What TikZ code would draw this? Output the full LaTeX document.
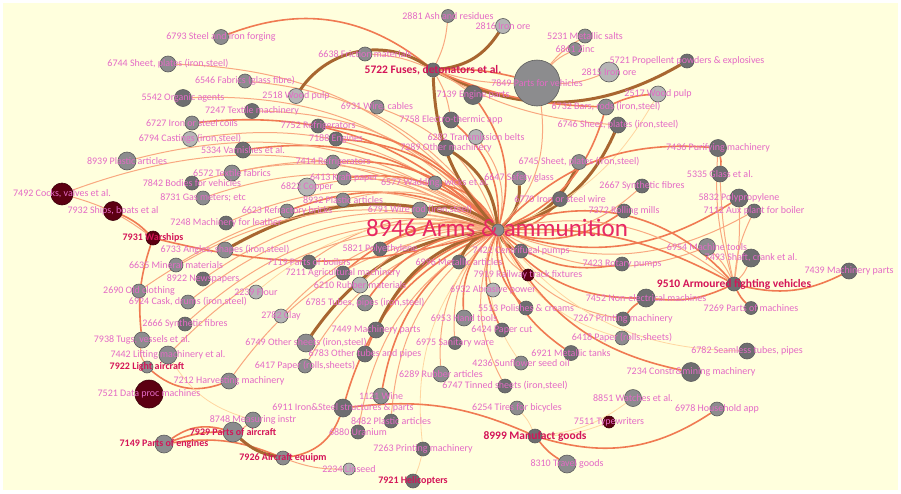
\documentclass[tikz,border=0pt]{standalone}
\usepackage{fontspec}
\setmainfont{Carlito}
\definecolor{bgc}{RGB}{255,255,221}
\definecolor{gdark}{RGB}{110,110,112}
\definecolor{gmid}{RGB}{140,140,142}
\definecolor{glight}{RGB}{182,182,182}
\definecolor{dotline}{RGB}{92,92,92}
\definecolor{maroon}{RGB}{92,0,18}
\definecolor{maroonline}{RGB}{60,0,10}
\definecolor{pinklbl}{RGB}{228,106,198}
\definecolor{crimson}{RGB}{212,20,88}
\definecolor{hubc}{RGB}{232,40,100}
\definecolor{epale}{RGB}{255,214,160}
\definecolor{ethin}{RGB}{249,168,128}
\definecolor{emed}{RGB}{240,122,82}
\definecolor{ebrown}{RGB}{168,102,48}
\pgfdeclarelayer{edges}
\pgfdeclarelayer{labels}
\pgfsetlayers{edges,main,labels}
\tikzset{
  dot/.style={circle,inner sep=0pt,draw=dotline,line width=0.6pt},
  dk/.style={dot,fill=gdark},
  md/.style={dot,fill=gmid},
  lt/.style={dot,fill=glight},
  mr/.style={dot,fill=maroon,draw=maroonline},
  lbl/.style={text=pinklbl,font=\fontsize{10}{12}\selectfont,inner sep=0pt},
  hl/.style={text=crimson,font=\bfseries\fontsize{10}{12}\selectfont,inner sep=0pt},
  hlb/.style={text=crimson,font=\bfseries\fontsize{11.5}{13}\selectfont,inner sep=0pt},
  hublbl/.style={text=hubc,font=\fontsize{25}{28}\selectfont,inner sep=0pt},
  e0/.style={draw=epale,line width=0.8pt},
  e1/.style={draw=ethin,line width=1pt},
  e2/.style={draw=emed,line width=1.6pt},
  e3/.style={draw=ebrown,line width=3pt},
}
\newcommand\mynode[7]{\node[#4,minimum size=#5pt] (n#1) at (#2pt,-#3pt) {};
  \begin{pgfonlayer}{labels}\node[#6] (l#1) at (#2pt,-#3pt) {#7};\end{pgfonlayer}}
\newcommand\myedge[4]{\draw[#4] (n#1) to[bend left=#3] (n#2);}
\newcommand\hubedge[2]{\draw[#2] (n#1) to[bend left=25] (n8946);}
\begin{document}
\begin{tikzpicture}
\useasboundingbox (0pt,0pt) rectangle (901pt,-493pt);
\begin{pgfonlayer}{edges}
\fill[white] (0pt,0pt) rectangle (901pt,-493pt);
\fill[bgc] (3pt,-3pt) rectangle (898pt,-490pt);
\end{pgfonlayer}
% nodes
\node[md,minimum size=12pt] (n8946) at (498pt,-230pt) {};
\begin{pgfonlayer}{labels}\node[hublbl] (l8946) at (497pt,-228pt) {8946 Arms \& ammunition};\end{pgfonlayer}
\mynode{6793}{221}{37}{md}{15}{lbl}{6793 Steel and iron forging}
\mynode{6744}{168}{64}{md}{16}{lbl}{6744 Sheet, plates (iron,steel)}
\mynode{6546}{245}{81}{md}{14}{lbl}{6546 Fabrics (glass fibre)}
\mynode{5542}{183}{98}{dk}{17}{lbl}{5542 Organic agents}
\mynode{7247}{252}{111}{dk}{15}{lbl}{7247 Textile machinery}
\mynode{6727}{192}{123}{md}{14}{lbl}{6727 Iron or steel coils}
\mynode{6794}{190}{139}{lt}{15}{lbl}{6794 Castings (iron,steel)}
\mynode{5334}{243}{150}{dk}{16}{lbl}{5334 Varnishes et al.}
\mynode{8939}{127}{161}{md}{18}{lbl}{8939 Plastic articles}
\mynode{2518}{296}{96}{lt}{15}{lbl}{2518 Wood pulp}
\mynode{7752}{318}{126}{dk}{14}{lbl}{7752 Refrigerators}
\mynode{7188}{336}{139}{dk}{14}{lbl}{7188 Engines}
\mynode{7414}{333}{162}{md}{14}{lbl}{7414 Refrigerators}
\mynode{6638}{365}{54}{md}{14}{lbl}{6638 Friction materials}
\mynode{5722}{433}{70}{dk}{14}{hlb}{5722 Fuses, detonators et al.}
\mynode{2881}{448}{16}{md}{13}{lbl}{2881 Ash and residues}
\mynode{2816}{503}{26}{lt}{15}{lbl}{2816 Iron ore}
\mynode{5231}{585}{36}{md}{14}{lbl}{5231 Metallic salts}
\mynode{6861}{575}{49}{md}{13}{lbl}{6861 Zinc}
\mynode{7849}{537}{83}{md}{46}{lbl}{7849 Parts for vehicles}
\mynode{2815}{609}{72}{lt}{20}{lbl}{2815 Iron ore}
\mynode{5721}{687}{61}{dk}{14}{lbl}{5721 Propellent powders \& explosives}
\mynode{2517}{658}{94}{lt}{16}{lbl}{2517 Wood pulp}
\mynode{6732}{606}{107}{md}{16}{lbl}{6732 Bars, rods (iron,steel)}
\mynode{6746}{618}{125}{dk}{16}{lbl}{6746 Sheet, plates (iron,steel)}
\mynode{7139}{473}{95}{dk}{19}{lbl}{7139 Engine parts}
\mynode{6931}{377}{107}{md}{14}{lbl}{6931 Wire, cables}
\mynode{7758}{451}{120}{dk}{16}{lbl}{7758 Electro-thermic app}
\mynode{6282}{476}{137}{lt}{15}{lbl}{6282 Transmission belts}
\mynode{7289}{446}{148}{dk}{16}{lbl}{7289 Other machinery}
\mynode{6745}{579}{162}{md}{15}{lbl}{6745 Sheet, plates (iron,steel)}
\mynode{6647}{519}{178}{md}{14}{lbl}{6647 Safety glass}
\mynode{6770}{560}{199}{dk}{15}{lbl}{6770 Iron or steel wire}
\mynode{2667}{642}{186}{dk}{14}{lbl}{2667 Synthetic fibres}
\mynode{7372}{624}{211}{dk}{14}{lbl}{7372 Rolling mills}
\mynode{7436}{718}{148}{dk}{17}{lbl}{7436 Purifying machinery}
\mynode{5335}{720}{174}{dk}{16}{lbl}{5335 Glass et al.}
\mynode{5832}{739}{198}{dk}{18}{lbl}{5832 Polypropylene}
\mynode{7112}{754}{211}{dk}{14}{lbl}{7112 Aux plant for boiler}
\mynode{6954}{707}{247}{md}{17}{lbl}{6954 Machine tools}
\mynode{7493}{751}{258}{dk}{18}{lbl}{7493 Shaft, crank et al.}
\mynode{7423}{622}{264}{dk}{14}{lbl}{7423 Rotary pumps}
\mynode{7422}{521}{251}{dk}{14}{lbl}{7422 Centrifugal pumps}
\mynode{9510}{734}{284}{dk}{14}{hlb}{9510 Armoured fighting vehicles}
\mynode{7439}{849}{271}{dk}{16}{lbl}{7439 Machinery parts}
\mynode{7269}{751}{308}{dk}{13}{lbl}{7269 Parts of machines}
\mynode{7452}{646}{298}{dk}{18}{lbl}{7452 Non-electrical machines}
\mynode{7267}{623}{319}{dk}{14}{lbl}{7267 Printing machinery}
\mynode{6418}{622}{338}{md}{14}{lbl}{6418 Paper (rolls,sheets)}
\mynode{6782}{747}{351}{dk}{16}{lbl}{6782 Seamless tubes, pipes}
\mynode{7234}{691}{372}{dk}{19}{lbl}{7234 Constr\&mining machinery}
\mynode{8851}{633}{398}{md}{17}{lbl}{8851 Watches et al.}
\mynode{6978}{717}{409}{md}{14}{lbl}{6978 Household app}
\mynode{7511}{609}{422}{mr}{12}{lbl}{7511 Typewriters}
\mynode{8999}{535}{436}{dk}{14}{hlb}{8999 Manufact goods}
\mynode{8310}{567}{464}{md}{18}{lbl}{8310 Travel goods}
\mynode{6254}{517}{408}{md}{14}{lbl}{6254 Tires for bicycles}
\mynode{6747}{505}{386}{dk}{14}{lbl}{6747 Tinned sheets (iron,steel)}
\mynode{4236}{521}{363}{md}{14}{lbl}{4236 Sunflower seed oil}
\mynode{6921}{571}{353}{dk}{15}{lbl}{6921 Metallic tanks}
\mynode{6424}{502}{330}{dk}{14}{lbl}{6424 Paper cut}
\mynode{6975}{455}{343}{dk}{13}{lbl}{6975 Sanitary ware}
\mynode{6289}{441}{374}{md}{16}{lbl}{6289 Rubber articles}
\mynode{1121}{381}{396}{md}{16}{lbl}{1121 Wine}
\mynode{6911}{343}{408}{dk}{18}{lbl}{6911 Iron\&Steel structures \& parts}
\mynode{8482}{391}{421}{dk}{14}{lbl}{8482 Plastic articles}
\mynode{6880}{358}{432}{dk}{14}{lbl}{6880 Uranium}
\mynode{7263}{423}{449}{dk}{14}{lbl}{7263 Printing machinery}
\mynode{7921}{413}{481}{dk}{14}{hl}{7921 Helicopters}
\mynode{2234}{349}{469}{lt}{12}{lbl}{2234 Linseed}
\mynode{7926}{283}{458}{md}{14}{hl}{7926 Aircraft equipm}
\mynode{7929}{233}{432}{md}{20}{hl}{7929 Parts of aircraft}
\mynode{8748}{253}{420}{md}{16}{lbl}{8748 Measuring instr}
\mynode{7149}{164}{444}{md}{18}{hl}{7149 Parts of engines}
\mynode{7521}{149}{394}{mr}{28}{lbl}{7521 Data proc machines}
\mynode{7212}{229}{381}{md}{16}{lbl}{7212 Harvesting machinery}
\mynode{7922}{147}{367}{md}{12}{hl}{7922 Light aircraft}
\mynode{7442}{168}{355}{md}{18}{lbl}{7442 Lifting machinery et al.}
\mynode{7938}{142}{340}{md}{16}{lbl}{7938 Tugs, vessels et al.}
\mynode{6749}{306}{343}{md}{18}{lbl}{6749 Other sheets (iron,steel)}
\mynode{6417}{305}{366}{md}{14}{lbl}{6417 Paper (rolls,sheets)}
\mynode{6783}{365}{354}{dk}{16}{lbl}{6783 Other tubes and pipes}
\mynode{7449}{376}{330}{dk}{16}{lbl}{7449 Machinery parts}
\mynode{2782}{281}{316}{lt}{14}{lbl}{2782 Clay}
\mynode{6785}{365}{303}{md}{16}{lbl}{6785 Tubes, pipes (iron,steel)}
\mynode{6210}{360}{285}{lt}{16}{lbl}{6210 Rubber materials}
\mynode{7211}{343}{273}{dk}{14}{lbl}{7211 Agricultural machinery}
\mynode{7119}{309}{262}{dk}{14}{lbl}{7119 Parts of boilers}
\mynode{5821}{380}{249}{dk}{14}{lbl}{5821 Polyethylene}
\mynode{6996}{459}{262}{dk}{14}{lbl}{6996 Metallic articles}
\mynode{6932}{493}{290}{lt}{14}{lbl}{6932 Abrasive power}
\mynode{7919}{528}{275}{mr}{12}{lbl}{7919 Railway track fixtures}
\mynode{5513}{526}{308}{dk}{14}{lbl}{5513 Polishes \& creams}
\mynode{6953}{464}{318}{md}{16}{lbl}{6953 Hand tools}
\mynode{2239}{256}{292}{lt}{14}{lbl}{2239 Flour}
\mynode{8922}{203}{279}{dk}{14}{lbl}{8922 Newspapers}
\mynode{6635}{176}{265}{md}{14}{lbl}{6635 Mineral materials}
\mynode{6733}{225}{250}{md}{16}{lbl}{6733 Angles, shapes (iron,steel)}
\mynode{7931}{153}{238}{mr}{14}{hl}{7931 Warships}
\mynode{7932}{113}{211}{mr}{19}{lbl}{7932 Ships, boats et al}
\mynode{7492}{62}{194}{mr}{22}{lbl}{7492 Cocks, valves et al.}
\mynode{2690}{139}{291}{md}{14}{lbl}{2690 Old clothing}
\mynode{6924}{188}{302}{md}{14}{lbl}{6924 Cask, drums (iron,steel)}
\mynode{2666}{185}{324}{dk}{14}{lbl}{2666 Synthetic fibres}
\mynode{7248}{226}{223}{dk}{14}{lbl}{7248 Machinery for leather}
\mynode{8731}{203}{198}{md}{14}{lbl}{8731 Gas meters; etc}
\mynode{7842}{192}{183}{dk}{14}{lbl}{7842 Bodies for vehicles}
\mynode{6572}{232}{173}{md}{16}{lbl}{6572 Textile fabrics}
\mynode{6822}{307}{187}{lt}{18}{lbl}{6822 Copper}
\mynode{6623}{287}{211}{md}{14}{lbl}{6623 Refractory bricks}
\mynode{6413}{344}{178}{md}{14}{lbl}{6413 Kraft paper}
\mynode{8932}{343}{200}{md}{14}{lbl}{8932 Plastic articles}
\mynode{6577}{435}{183}{md}{14}{lbl}{6577 Wadding, wicks et al.}
\mynode{6791}{420}{210}{md}{16}{lbl}{6791 Wire rod (iron,steel)}
% edges
\begin{pgfonlayer}{edges}
\hubedge{6744}{e1}\hubedge{6546}{e1}\hubedge{5542}{e1}\hubedge{7247}{e1}
\hubedge{6727}{e2}\hubedge{6794}{e1}\hubedge{5334}{e2}\hubedge{8939}{e1}
\hubedge{7752}{e2}\hubedge{7188}{e2}\hubedge{7414}{e2}\hubedge{6931}{e1}
\hubedge{7758}{e2}\hubedge{6282}{e1}\hubedge{7289}{e3}\hubedge{6745}{e3}
\hubedge{6647}{e3}\hubedge{6770}{e2}\hubedge{2667}{e1}\hubedge{7372}{e2}
\hubedge{6746}{e3}\hubedge{6732}{e2}\hubedge{5832}{e2}\hubedge{7112}{e1}
\hubedge{6954}{e1}\hubedge{7423}{e2}\hubedge{7422}{e3}\hubedge{7452}{e2}
\hubedge{7267}{e1}\hubedge{6418}{e0}\hubedge{6782}{e0}\hubedge{7234}{e2}
\hubedge{6747}{e1}\hubedge{4236}{e0}\hubedge{6921}{e2}\hubedge{6424}{e2}
\hubedge{6975}{e1}\hubedge{6289}{e1}\hubedge{1121}{e2}\hubedge{6911}{e2}
\hubedge{8482}{e1}\hubedge{6880}{e1}\hubedge{7263}{e0}\hubedge{6749}{e3}
\hubedge{6417}{e1}\hubedge{6783}{e2}\hubedge{7449}{e3}\hubedge{2782}{e1}
\hubedge{6785}{e2}\hubedge{6210}{e1}\hubedge{7211}{e2}\hubedge{7119}{e1}
\hubedge{5821}{e2}\hubedge{6996}{e3}\hubedge{6932}{e1}\hubedge{7919}{e1}
\hubedge{5513}{e2}\hubedge{6953}{e2}\hubedge{2239}{e0}\hubedge{8922}{e1}
\hubedge{6635}{e1}\hubedge{6733}{e3}\hubedge{2690}{e1}\hubedge{6924}{e1}
\hubedge{2666}{e1}\hubedge{7248}{e1}\hubedge{8731}{e1}\hubedge{7842}{e1}
\hubedge{6572}{e1}\hubedge{6822}{e1}\hubedge{6623}{e2}\hubedge{6413}{e2}
\hubedge{8932}{e1}\hubedge{6577}{e2}\hubedge{6791}{e3}\hubedge{7492}{e1}
\hubedge{7212}{e1}\hubedge{7442}{e1}\hubedge{7139}{e2}\hubedge{7849}{e1}
\myedge{7931}{8946}{-15}{e2}
\myedge{6793}{5722}{30}{e2}
\myedge{2881}{5722}{10}{e1}
\myedge{2816}{5722}{25}{e3}
\myedge{5722}{5721}{-28}{e3}
\myedge{2518}{5722}{45}{e3}
\myedge{6638}{5722}{10}{e1}
\myedge{5722}{7849}{8}{e2}
\myedge{5722}{7849}{-8}{e1}
\myedge{5722}{6732}{-10}{e2}
\myedge{5722}{6746}{-12}{e1}
\myedge{5722}{7139}{5}{e1}
\myedge{5722}{7758}{10}{e1}
\myedge{8946}{5722}{20}{e3}
\myedge{7849}{6861}{10}{e1}
\myedge{7849}{5231}{10}{e1}
\myedge{7849}{2815}{-10}{e1}
\myedge{2517}{6732}{-10}{e2}
\myedge{2517}{8946}{20}{e0}
\myedge{7436}{8946}{-25}{e2}
\myedge{7436}{5335}{10}{e2}
\myedge{7436}{9510}{-10}{e1}
\myedge{8946}{9510}{15}{e2}
\myedge{8946}{9510}{25}{e1}
\myedge{8946}{9510}{35}{e2}
\myedge{6954}{9510}{10}{e1}
\myedge{7493}{9510}{10}{e1}
\myedge{7269}{9510}{10}{e2}
\myedge{7439}{9510}{20}{e2}
\myedge{7112}{9510}{-10}{e1}
\myedge{5335}{9510}{-5}{e1}
\myedge{5832}{9510}{5}{e1}
\myedge{7452}{9510}{-15}{e2}
\myedge{7267}{7452}{10}{e2}
\myedge{7932}{7931}{10}{e2}
\myedge{7492}{7931}{10}{e1}
\myedge{7931}{7938}{-12}{e2}
\myedge{7938}{7922}{-20}{e1}
\myedge{7922}{7212}{-30}{e2}
\myedge{7442}{8748}{-20}{e0}
\myedge{7149}{7929}{25}{e2}
\myedge{7149}{7929}{10}{e2}
\myedge{7149}{7926}{15}{e2}
\myedge{7929}{7926}{-15}{e3}
\myedge{8748}{7929}{10}{e1}
\myedge{7926}{6911}{-30}{e2}
\myedge{7926}{2234}{-10}{e1}
\myedge{6911}{8999}{15}{e2}
\myedge{8999}{6978}{-25}{e2}
\myedge{8310}{8999}{10}{e2}
\myedge{6254}{8999}{10}{e0}
\myedge{7511}{8999}{10}{e0}
\myedge{8851}{8999}{15}{e0}
\myedge{7263}{7921}{5}{e0}
\end{pgfonlayer}
\end{tikzpicture}
\end{document}
